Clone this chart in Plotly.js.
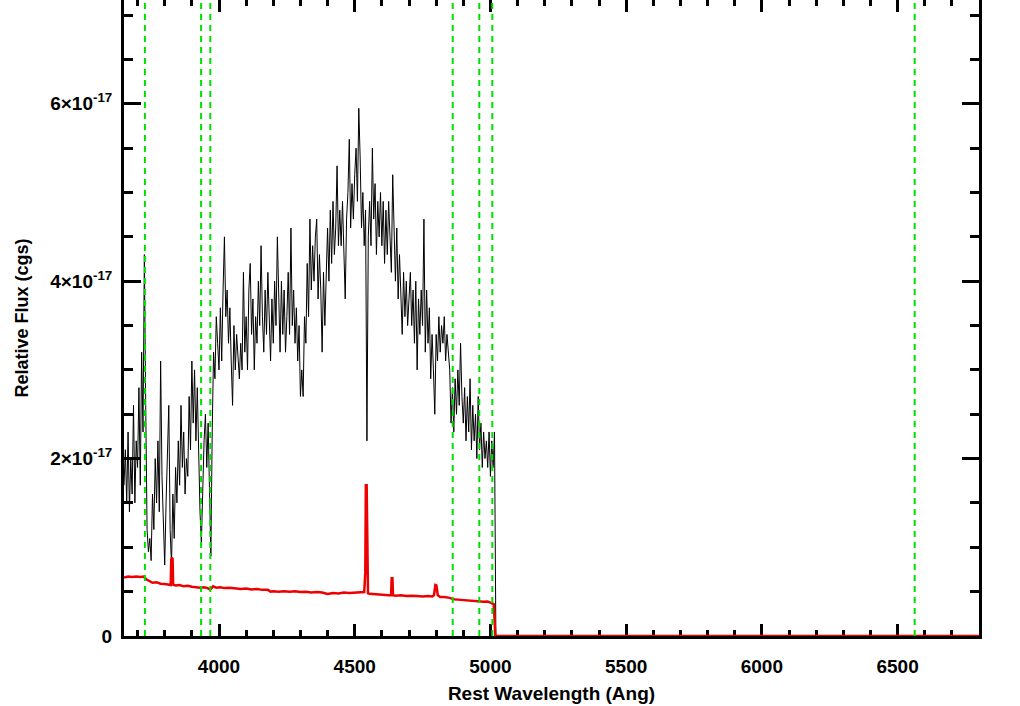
<!DOCTYPE html>
<html>
<head>
<meta charset="utf-8">
<script src="https://cdn.plot.ly/plotly-3.0.1.min.js"></script>
<style>
  html, body { margin: 0; padding: 0; background: #fff; }
  #chart { width: 1020px; height: 706px; }
</style>
</head>
<body>
<div id="chart"></div>
<script>
// ---- data (flux in units of 1e-17 cgs) ----
const fluxUnit = 1e-17;

// observed spectrum: uniform wavelength grid
const specStart = 3650;   // Angstrom
const specStep = 5;       // Angstrom
const specFlux = [
  1.7, 2.1, 1.5, 2.3, 1.4, 2.0, 1.6, 2.6, 1.5, 2.2,
  1.9, 2.8, 1.7, 3.2, 2.3, 4.3, 2.6, 1.2, 0.95, 1.1,
  0.85, 1.6, 1.2, 2.0, 1.5, 2.2, 1.4, 3.1, 1.8, 1.3,
  0.8, 1.5, 2.0, 2.6, 1.2, 0.8, 1.6, 1.1, 1.9, 1.5,
  2.2, 1.7, 2.6, 1.9, 2.3, 1.6, 2.0, 1.8, 2.7, 2.1,
  3.1, 2.4, 3.0, 2.2, 2.8, 2.0, 1.4, 1.05, 1.7, 2.2,
  2.5, 1.9, 2.4, 1.6, 0.9, 2.3, 3.2, 2.9, 3.6, 3.3,
  3.0, 3.7, 3.1, 3.9, 4.5, 3.6, 3.9, 3.3, 3.7, 3.1,
  2.6, 3.5, 3.0, 3.4, 3.1, 2.9, 3.3, 3.0, 4.1, 3.2,
  3.6, 3.0, 3.9, 4.2, 3.4, 3.8, 3.0, 3.6, 3.3, 4.0,
  3.5, 4.4, 3.6, 3.2, 3.9, 3.4, 4.1, 3.5, 3.1, 3.8,
  3.3, 4.0, 3.5, 4.5, 3.7, 3.2, 4.0, 3.4, 3.9, 3.2,
  3.6, 4.1, 3.4, 4.6, 3.5, 3.9, 3.3, 3.7, 3.1, 3.5,
  2.7, 3.0, 2.7, 3.6, 3.3, 4.2, 3.6, 4.7, 3.9, 4.4,
  4.0, 4.5, 4.7, 3.8, 4.3, 3.9, 3.2, 4.1, 3.5, 4.2,
  4.6, 4.0, 4.8, 4.2, 4.9, 4.3, 4.6, 5.3, 4.4, 4.8,
  4.4, 4.9, 4.3, 3.8, 4.7, 5.0, 5.6, 4.6, 5.1, 4.7,
  5.2, 5.5, 4.9, 5.95, 5.4, 4.6, 5.0, 4.4, 4.8, 2.2,
  4.5, 4.9, 4.4, 5.5, 4.7, 5.1, 4.3, 4.9, 4.5, 5.0,
  4.4, 4.9, 4.2, 4.8, 4.3, 4.9, 4.5, 4.1, 5.2, 4.4,
  4.0, 4.6, 3.8, 4.3, 3.9, 3.4, 4.1, 3.6, 4.0, 3.5,
  3.8, 4.1, 3.5, 3.9, 3.3, 4.0, 3.0, 3.8, 3.4, 3.9,
  3.5, 4.7, 3.2, 3.9, 3.3, 3.7, 2.9, 3.4, 3.0, 2.5,
  3.4, 3.1, 3.6, 3.2, 3.5, 3.3, 3.6, 3.1, 3.4, 3.2,
  3.0, 2.4, 2.8, 2.3, 2.9, 2.5, 3.0, 2.6, 3.3, 2.7,
  2.4, 2.8, 2.2, 2.7, 2.3, 2.9, 2.1, 2.6, 2.2, 2.5,
  2.0, 2.7, 2.1, 2.4, 1.9, 2.3, 2.0, 2.2, 1.9, 2.3,
  1.8, 2.2, 1.9, 2.3
];
// beyond the end of the observed data the spectrum is zero
const specTailWave = [5020, 6800];
const specTailFlux = [0, 0];

// model / error spectrum (red)
const redWave = [
  3650, 3665, 3680, 3695, 3710, 3722, 3732, 3742, 3755, 3770,
  3785, 3800, 3812, 3822, 3824, 3826, 3829, 3831, 3840, 3855,
  3870, 3885, 3900, 3915, 3930, 3945, 3958, 3966, 3970, 3978,
  3990, 4005, 4020, 4040, 4060, 4080, 4100, 4120, 4140, 4160,
  4180, 4190, 4200, 4220, 4240, 4260, 4280, 4300, 4320, 4340,
  4360, 4380, 4400, 4410, 4420, 4440, 4460, 4480, 4500, 4520,
  4535, 4539, 4541, 4544, 4546, 4549, 4555, 4570, 4590, 4610,
  4625, 4634, 4636, 4639, 4641, 4650, 4670, 4690, 4710, 4730,
  4750, 4770, 4785, 4792, 4797, 4801, 4806, 4815, 4830, 4850,
  4865, 4880, 4900, 4920, 4940, 4960, 4975, 4990, 5000, 5008,
  5012, 5015, 5018, 6800
];
const redFlux = [
  0.66, 0.67, 0.665, 0.67, 0.665, 0.67, 0.64, 0.62, 0.60, 0.605,
  0.59, 0.585, 0.58, 0.575, 0.86, 0.88, 0.87, 0.58, 0.57, 0.575,
  0.56, 0.565, 0.555, 0.55, 0.545, 0.55, 0.54, 0.525, 0.53, 0.56,
  0.545, 0.55, 0.54, 0.545, 0.535, 0.53, 0.535, 0.525, 0.53, 0.52,
  0.52, 0.50, 0.505, 0.50, 0.505, 0.50, 0.505, 0.495, 0.50, 0.49,
  0.495, 0.49, 0.475, 0.48, 0.485, 0.48, 0.49, 0.485, 0.49, 0.49,
  0.495, 0.72, 1.70, 1.70, 0.72, 0.48, 0.475, 0.47, 0.47, 0.465,
  0.46, 0.46, 0.65, 0.65, 0.46, 0.455, 0.46, 0.45, 0.455, 0.45,
  0.445, 0.45, 0.445, 0.46, 0.575, 0.57, 0.46, 0.44, 0.44, 0.43,
  0.415, 0.41, 0.405, 0.40, 0.395, 0.39, 0.385, 0.39, 0.38, 0.37,
  0.36, 0.2, 0, 0
];

// marked emission/absorption line wavelengths (green dashed)
const lineWaves = [3727, 3934, 3968, 4861, 4959, 5007, 6563];

// axis ticks
const yTickVals = [0, 2, 4, 6];
const yTickText = ['0', '2\u00d710<sup>-17</sup>', '4\u00d710<sup>-17</sup>', '6\u00d710<sup>-17</sup>'];
const yMinorVals = [0.5, 1, 1.5, 2, 2.5, 3, 3.5, 4, 4.5, 5, 5.5, 6, 6.5, 7];

// ---- build traces ----
const specWave = specFlux.map((_, i) => specStart + i * specStep);
const blackX = specWave.concat(specTailWave);
const blackY = specFlux.concat(specTailFlux).map(v => v * fluxUnit);

const traces = [
  {
    x: blackX, y: blackY, type: 'scatter', mode: 'lines',
    line: { color: '#000000', width: 1 }, hoverinfo: 'skip'
  },
  {
    x: redWave, y: redFlux.map(v => v * fluxUnit), type: 'scatter', mode: 'lines',
    line: { color: '#ee0000', width: 2.5 }, hoverinfo: 'skip'
  }
];

const fontFam = '"Liberation Sans", Arial, Helvetica, sans-serif';
const tickFont = { family: fontFam, size: 19, color: '#000', weight: 'bold' };
const xTitleFont = { family: fontFam, size: 19, color: '#000', weight: 'bold' };
const yTitleFont = { family: fontFam, size: 18, color: '#000', weight: 'bold' };

const shapes = lineWaves.map(w => ({
  type: 'line', xref: 'x', yref: 'paper', x0: w, x1: w, y0: 0, y1: 1,
  line: { color: '#00e000', width: 2, dash: '6px,5px' }, layer: 'above'
}));

const layout = {
  width: 1020, height: 706,
  margin: { l: 124, r: 41, t: 0, b: 70, pad: 0 },
  paper_bgcolor: '#fff', plot_bgcolor: '#fff',
  showlegend: false,
  xaxis: {
    range: [3650, 6800], autorange: false,
    tickmode: 'linear', tick0: 4000, dtick: 500,
    ticks: 'inside', ticklen: 12, tickwidth: 3, tickcolor: '#000',
    showline: true, linewidth: 3, linecolor: '#000', mirror: 'ticks',
    showgrid: false, zeroline: false, layer: 'below traces',
    tickfont: tickFont, ticklabelstandoff: 11,
    minor: { tickmode: 'linear', tick0: 3600, dtick: 100, ticks: 'inside', ticklen: 6, tickwidth: 3, tickcolor: '#000', showgrid: false },
    title: { text: 'Rest Wavelength (Ang)', font: xTitleFont, standoff: 11 }
  },
  yaxis: {
    range: [0, 7.17e-17], autorange: false,
    tickmode: 'array', tickvals: yTickVals.map(v => v * fluxUnit), ticktext: yTickText,
    ticks: 'inside', ticklen: 17, tickwidth: 3, tickcolor: '#000',
    showline: true, linewidth: 3, linecolor: '#000', mirror: 'ticks',
    showgrid: false, zeroline: false, layer: 'below traces',
    tickfont: tickFont, ticklabelstandoff: 5,
    minor: { tickmode: 'array', tickvals: yMinorVals.map(v => v * fluxUnit), ticks: 'inside', ticklen: 9, tickwidth: 3, tickcolor: '#000', showgrid: false },
    title: { text: 'Relative Flux (cgs)', font: yTitleFont, standoff: 17 }
  },
  shapes: shapes
};

Plotly.newPlot('chart', traces, layout, { staticPlot: true, displayModeBar: false });
</script>
</body>
</html>
